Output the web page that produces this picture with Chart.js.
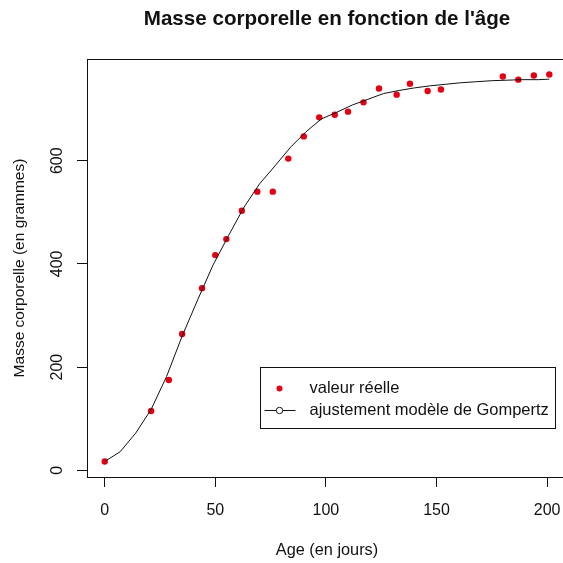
<!DOCTYPE html>
<html>
<head>
<meta charset="utf-8">
<script src="https://cdn.jsdelivr.net/npm/chart.js"></script>
<style>
  html, body { margin: 0; padding: 0; background: #fff; overflow: hidden; }
  #wrap { width: 575px; height: 563px; }
</style>
</head>
<body>
<div id="wrap"><canvas id="myChart"></canvas></div>
<script>
// observed weights (red dots)
const ageDays = [0, 21, 29, 35, 44, 50, 55, 62, 69, 76, 83, 90, 97, 104, 110, 117, 124, 132, 138, 146, 152, 180, 187, 194, 201];
const massGrams = [17, 115, 175, 264, 353, 417, 448, 503, 540, 540, 604, 647, 684, 689, 695, 713, 740, 728, 749, 735, 738, 763, 757, 765, 767];

// fitted Gompertz curve
const fitAge = [0, 7, 14, 21, 28, 35, 42, 49, 56, 63, 70, 77, 84, 91, 98, 105, 112, 119, 126, 133, 140, 147, 154, 161, 168, 175, 182, 189, 196, 201];
const fitMass = [17, 36, 72, 118, 182, 260, 330, 398, 455, 510, 555, 590, 626, 656, 681, 694, 708, 719, 730, 736, 741, 745, 748, 751, 753, 755, 756, 757, 757, 758];

const xTicks = [0, 50, 100, 150, 200];
const yTicks = [0, 200, 400, 600];
const legendLabels = ['valeur réelle', 'ajustement modèle de Gompertz'];

const FONT = "'Liberation Sans', Arial, Helvetica, sans-serif";
const INK = '#111';
const RED = 'rgb(228, 0, 18)';

const scatterPts = ageDays.map((a, i) => ({ x: a, y: massGrams[i] }));
const curvePts = fitAge.map((a, i) => ({ x: a, y: fitMass[i] }));

// box round the plot, rotated y tick labels and the legend
const rPlot = {
    id: 'rPlot',
    afterDraw(chart) {
        const { ctx, chartArea: ca, scales } = chart;
        ctx.save();
        ctx.strokeStyle = INK;
        ctx.lineWidth = 1;
        ctx.strokeRect(Math.round(ca.left) + 0.5, Math.round(ca.top) + 0.5,
            Math.round(ca.right - ca.left), Math.round(ca.bottom - ca.top));

        // y tick labels, parallel to the axis
        ctx.fillStyle = INK;
        ctx.font = '16px ' + FONT;
        ctx.textAlign = 'center';
        ctx.textBaseline = 'middle';
        yTicks.forEach(v => {
            const py = scales.y.getPixelForValue(v);
            ctx.save();
            ctx.translate(58, py);
            ctx.rotate(-Math.PI / 2);
            ctx.fillText(String(v), 0, 0);
            ctx.restore();
        });

        // legend, top-left corner at (70, 200) in data units
        const lx = Math.round(scales.x.getPixelForValue(70)) + 0.5;
        const ly = Math.round(scales.y.getPixelForValue(200)) + 0.5;
        ctx.font = '16.5px ' + FONT;
        const textW = Math.max(...legendLabels.map(t => ctx.measureText(t).width));
        const textX = lx + 49;
        const w = Math.round(textX - lx + textW + 7);
        const h = 61;
        ctx.fillStyle = '#fff';
        ctx.fillRect(lx, ly, w, h);
        ctx.strokeStyle = INK;
        ctx.strokeRect(lx, ly, w, h);

        const row1 = ly + 21, row2 = ly + 43;
        const symX = lx + 19;
        ctx.fillStyle = RED;
        ctx.beginPath();
        ctx.arc(symX, row1, 3, 0, Math.PI * 2);
        ctx.fill();

        ctx.strokeStyle = INK;
        ctx.beginPath();
        ctx.moveTo(lx + 4, row2);
        ctx.lineTo(lx + 35, row2);
        ctx.stroke();
        ctx.fillStyle = '#fff';
        ctx.beginPath();
        ctx.arc(symX, row2, 3.2, 0, Math.PI * 2);
        ctx.fill();
        ctx.stroke();

        ctx.fillStyle = INK;
        ctx.textAlign = 'left';
        ctx.fillText(legendLabels[0], textX, row1);
        ctx.fillText(legendLabels[1], textX, row2);
        ctx.restore();
    }
};

const ctx = document.getElementById('myChart').getContext('2d');
const myChart = new Chart(ctx, {
    type: 'scatter',
    data: {
        datasets: [{
            label: legendLabels[1],
            data: curvePts,
            showLine: true,
            borderColor: INK,
            borderWidth: 1,
            pointRadius: 0,
            tension: 0,
            fill: false,
            order: 0
        }, {
            label: legendLabels[0],
            data: scatterPts,
            backgroundColor: RED,
            borderColor: RED,
            borderWidth: 0,
            pointRadius: 3.2,
            order: 1
        }]
    },
    plugins: [rPlot],
    options: {
        responsive: true,
        maintainAspectRatio: false,
        animation: false,
        layout: { padding: { left: 0, right: 8, top: 0, bottom: 0 } },
        plugins: {
            legend: { display: false },
            tooltip: { enabled: false },
            title: {
                display: true,
                fullSize: false,
                text: "Masse corporelle en fonction de l'âge",
                color: INK,
                font: { family: FONT, size: 20.6, weight: 'bold', lineHeight: 1.2 },
                padding: { top: 7, bottom: 27.3 }
            }
        },
        scales: {
            x: {
                type: 'linear',
                min: -8,
                max: 209,
                afterBuildTicks: s => { s.ticks = xTicks.map(v => ({ value: v })); },
                afterFit: s => { s.height = 86; },
                grid: { display: true, drawOnChartArea: false, drawTicks: true, tickLength: 10, tickColor: INK, color: INK },
                border: { display: false },
                ticks: { color: INK, font: { family: FONT, size: 16 }, padding: 14, maxRotation: 0 },
                title: { display: true, text: 'Age (en jours)', color: INK, font: { family: FONT, size: 16.3, lineHeight: 1.2 }, padding: { top: 0, bottom: 3 } }
            },
            y: {
                type: 'linear',
                min: -13,
                max: 797,
                afterBuildTicks: s => { s.ticks = yTicks.map(v => ({ value: v })); },
                afterFit: s => { s.width = 87; },
                grid: { display: true, drawOnChartArea: false, drawTicks: true, tickLength: 10, tickColor: INK, color: INK },
                border: { display: false },
                ticks: { display: false },
                title: { display: true, text: 'Masse corporelle (en grammes)', color: INK, font: { family: FONT, size: 15.5, lineHeight: 1.2 }, padding: { top: 10, bottom: 0 } }
            }
        }
    }
});
</script>
</body>
</html>
